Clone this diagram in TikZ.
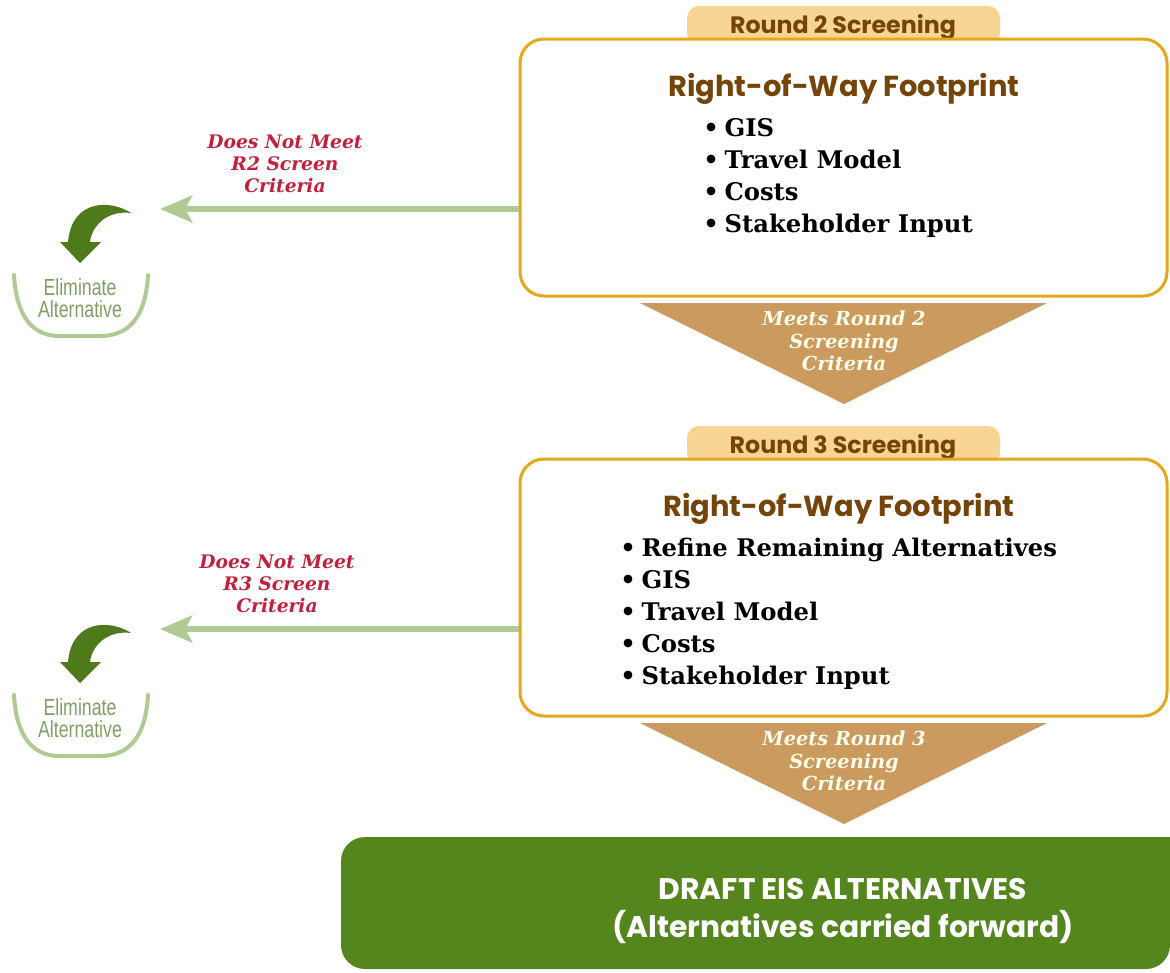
\documentclass[tikz,border=0pt]{standalone}
\usepackage{fontspec}
\usetikzlibrary{arrows.meta,calc}
\setmainfont{DejaVu Serif}
\newfontfamily\geo{Poppins}
\newfontfamily\narrow[FakeStretch=0.76]{Liberation Sans}
\definecolor{gold}{HTML}{E3A91B}
\definecolor{tabfill}{HTML}{F8D594}
\definecolor{brownt}{HTML}{744409}
\definecolor{tanfill}{HTML}{CB9A5E}
\definecolor{lgreen}{HTML}{AFCB93}
\definecolor{dgreen}{HTML}{55851D}
\definecolor{redt}{HTML}{C1213F}
\definecolor{elim}{HTML}{7F9F63}
\tikzset{
  x=0.75pt,y=-0.75pt,
  mainbox/.style={draw=gold,line width=2.25pt,fill=white,rounded corners=18pt,minimum width=485.25pt,minimum height=192.75pt,inner sep=0pt},
  tabshape/.style={fill=tabfill,rounded corners=9pt},
  tabtext/.style={text=brownt,font=\geo\fontsize{17.8}{20}\selectfont\bfseries,inner sep=0pt},
  titletext/.style={text=brownt,font=\geo\fontsize{21.7}{26}\selectfont\bfseries,inner sep=0pt},
  listtext/.style={anchor=west,align=left,text=black,font=\fontsize{18.2}{24}\selectfont\bfseries,inner sep=0pt},
  rejtext/.style={align=center,text=redt,font=\fontsize{14}{16.7}\selectfont\bfseries\itshape,inner sep=0pt},
  meettext/.style={align=center,text=white!92!yellow,font=\fontsize{14.5}{16.7}\selectfont\bfseries\itshape,inner sep=0pt},
  tri/.style={fill=tanfill},
  rejarrow/.style={draw=lgreen,line width=5pt,-{Stealth[length=24pt,width=20pt,inset=5pt,fill=lgreen]}},
  bowl/.style={draw=lgreen,line width=3pt,line cap=round},
  curl/.style={fill=dgreen!92!black},
  elimtext/.style={align=center,text=elim,font=\narrow\fontsize{17.5}{16.6}\selectfont,inner sep=0pt},
  finaltext/.style={align=center,text=white,font=\geo\fontsize{22.3}{28.5}\selectfont\bfseries,inner sep=0pt},
}
\newcommand{\bul}{\makebox[16pt][l]{•}}
\begin{document}
\begin{tikzpicture}
\useasboundingbox (0,0) rectangle (1170,972);
% Round 2
\path[tabshape] (687,45) -- (687,6) -- (1000,6) -- (1000,45) -- cycle;
\node[tabtext] (tabA) at (843,27) {Round 2 Screening};
\node[mainbox] (boxA) at (843.5,167.5) {};
\node[titletext] (titleA) at (844,89) {Right-of-Way Footprint};
\node[listtext] (listA) at (703,178) {\bul GIS\\\bul Travel Model\\\bul Costs\\\bul Stakeholder Input};
\fill[tri] (640,303) -- (1047,303) -- (844,404) -- cycle;
\node[meettext] (meetA) at (844,341) {Meets Round 2\\Screening\\Criteria};
\node[rejtext] (rejA) at (285,164) {Does Not Meet\\R2 Screen\\Criteria};
\coordinate (endA) at (160,209);
\draw[rejarrow] (boxA.west |- endA) -- (endA);
\begin{scope}
\fill[curl] (131,213) .. controls (112,200) and (72,198) .. (68,242) -- (60,242) -- (80,263) -- (101,242) -- (90,242) .. controls (92,225) and (108,210) .. (131,213) -- cycle;
\draw[bowl] (14,275) .. controls (16,310) and (28,335) .. (58,336) -- (102,336) .. controls (134,335) and (146,310) .. (148,275);
\end{scope}
\node[elimtext] (elimA) at (80,298) {Eliminate\\Alternative};
% Round 3
\path[tabshape] (687,465) -- (687,426) -- (1000,426) -- (1000,465) -- cycle;
\node[tabtext] (tabB) at (843,447) {Round 3 Screening};
\node[mainbox] (boxB) at (843.5,587.5) {};
\node[titletext] (titleB) at (839,509) {Right-of-Way Footprint};
\node[listtext] (listB) at (620,614) {\bul Refine Remaining Alternatives\\\bul GIS\\\bul Travel Model\\\bul Costs\\\bul Stakeholder Input};
\fill[tri] (640,723) -- (1047,723) -- (844,824) -- cycle;
\node[meettext] (meetB) at (844,761) {Meets Round 3\\Screening\\Criteria};
\node[rejtext] (rejB) at (277,584) {Does Not Meet\\R3 Screen\\Criteria};
\coordinate (endB) at (160,629);
\draw[rejarrow] (boxB.west |- endB) -- (endB);
\begin{scope}[yshift=-315pt]
\fill[curl] (131,213) .. controls (112,200) and (72,198) .. (68,242) -- (60,242) -- (80,263) -- (101,242) -- (90,242) .. controls (92,225) and (108,210) .. (131,213) -- cycle;
\draw[bowl] (14,275) .. controls (16,310) and (28,335) .. (58,336) -- (102,336) .. controls (134,335) and (146,310) .. (148,275);
\end{scope}
\node[elimtext] (elimB) at (80,718) {Eliminate\\Alternative};
% Final
\fill[dgreen,rounded corners=18pt] (1170,837) -- (341,837) -- (341,969) -- (1170,969) [sharp corners] -- cycle;
\node[finaltext] (final) at (843,911) {DRAFT EIS ALTERNATIVES\\(Alternatives carried forward)};
\end{tikzpicture}
\end{document}
